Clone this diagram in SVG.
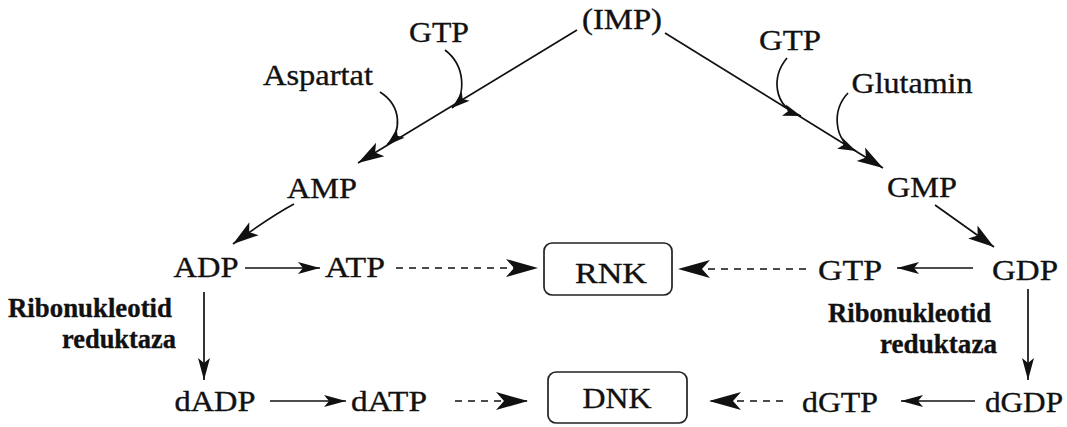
<svg xmlns="http://www.w3.org/2000/svg" width="1067" height="427" viewBox="0 0 1067 427">
<style>
text{font-family:"Liberation Serif","Times New Roman",serif;fill:#111;stroke:#111;stroke-width:0.35}
.t{font-size:30px;text-anchor:middle}
.b{font-size:27px;font-weight:bold;text-anchor:end}
.ln{fill:none;stroke:#111;stroke-width:1.7}
.ds{fill:none;stroke:#111;stroke-width:1.7;stroke-dasharray:7 6}
.box{fill:#fff;stroke:#222;stroke-width:1.7}
</style>
<defs>
<marker id="big" markerWidth="40" markerHeight="24" refX="32" refY="9" orient="auto" markerUnits="userSpaceOnUse" overflow="visible"><path d="M0,0 L32,9 L0,18 L8,9 Z" fill="#111"/></marker>
<marker id="med" markerWidth="34" markerHeight="20" refX="26" refY="8" orient="auto" markerUnits="userSpaceOnUse" overflow="visible"><path d="M0,0 L26,8 L0,16 L6,8 Z" fill="#111"/></marker>
<marker id="sm" markerWidth="28" markerHeight="14" refX="22" refY="6" orient="auto" markerUnits="userSpaceOnUse" overflow="visible"><path d="M0,0 L22,6 L0,12 L5,6 Z" fill="#111"/></marker>
<marker id="cv" markerWidth="24" markerHeight="14" refX="18" refY="6" orient="auto" markerUnits="userSpaceOnUse" overflow="visible"><path d="M0,0 L18,6 L0,12 L4,6 Z" fill="#111"/></marker>
</defs>

<g id="connectors">
<path class="ln" d="M577,30 L358,163" marker-end="url(#med)"/>
<path class="ln" d="M445,50 C466,66 466,96 452,108" marker-end="url(#cv)"/>
<path class="ln" d="M380,92 C402,106 402,132 387,145" marker-end="url(#cv)"/>
<path class="ln" d="M665,33 L883,168" marker-end="url(#med)"/>
<path class="ln" d="M787,58 C772,76 772,106 801,116" marker-end="url(#cv)"/>
<path class="ln" d="M848,93 C832,110 833,140 856,151" marker-end="url(#cv)"/>
<path class="ln" d="M294,204 C275,214 255,228 233,244" marker-end="url(#med)"/>
<path class="ln" d="M935,205 L994,247" marker-end="url(#med)"/>
<path class="ln" d="M245,268 L320,268" marker-end="url(#sm)"/>
<path class="ds" d="M396,268 L538,268" marker-end="url(#big)"/>
<path class="ln" d="M204,292 L204,380" marker-end="url(#sm)"/>
<path class="ln" d="M973,268 L897,268" marker-end="url(#sm)"/>
<path class="ds" d="M806,269 L678,269" marker-end="url(#big)"/>
<path class="ln" d="M1028,289 L1028,380" marker-end="url(#sm)"/>
<path class="ln" d="M270,401 L346,401" marker-end="url(#sm)"/>
<path class="ds" d="M455,401 L528,401" marker-end="url(#big)"/>
<path class="ln" d="M975,401 L901,401" marker-end="url(#sm)"/>
<path class="ds" d="M783,401 L709,401" marker-end="url(#big)"/>
</g>

<g id="IMP"><text class="t" x="622" y="29" textLength="80" lengthAdjust="spacingAndGlyphs">(IMP)</text></g>
<g id="GTP-left"><text class="t" x="439" y="42" textLength="60" lengthAdjust="spacingAndGlyphs">GTP</text></g>
<g id="Aspartat"><text class="t" x="318" y="85" textLength="110" lengthAdjust="spacingAndGlyphs">Aspartat</text></g>
<g id="GTP-right"><text class="t" x="790" y="50" textLength="62" lengthAdjust="spacingAndGlyphs">GTP</text></g>
<g id="Glutamin"><text class="t" x="912" y="93" textLength="121" lengthAdjust="spacingAndGlyphs">Glutamin</text></g>
<g id="AMP"><text class="t" x="322" y="198" textLength="70" lengthAdjust="spacingAndGlyphs">AMP</text></g>
<g id="GMP"><text class="t" x="922" y="197" textLength="70" lengthAdjust="spacingAndGlyphs">GMP</text></g>
<g id="ADP"><text class="t" x="206" y="277" textLength="65" lengthAdjust="spacingAndGlyphs">ADP</text></g>
<g id="ATP"><text class="t" x="355" y="277" textLength="60" lengthAdjust="spacingAndGlyphs">ATP</text></g>
<g id="RNK"><rect class="box" x="544" y="243" width="128" height="52" rx="8"/><text class="t" x="611" y="283" textLength="72" lengthAdjust="spacingAndGlyphs">RNK</text></g>
<g id="GTP-mid"><text class="t" x="850" y="280" textLength="64" lengthAdjust="spacingAndGlyphs">GTP</text></g>
<g id="GDP"><text class="t" x="1025" y="280" textLength="66" lengthAdjust="spacingAndGlyphs">GDP</text></g>
<g id="enzyme-left"><text class="b" x="172" y="317" textLength="164" lengthAdjust="spacingAndGlyphs">Ribonukleotid</text><text class="b" x="176" y="348" textLength="114" lengthAdjust="spacingAndGlyphs">reduktaza</text></g>
<g id="enzyme-right"><text class="b" x="991" y="322" textLength="163" lengthAdjust="spacingAndGlyphs">Ribonukleotid</text><text class="b" x="997" y="353" textLength="117" lengthAdjust="spacingAndGlyphs">reduktaza</text></g>
<g id="dADP"><text class="t" x="215" y="411" textLength="81" lengthAdjust="spacingAndGlyphs">dADP</text></g>
<g id="dATP"><text class="t" x="389" y="411" textLength="76" lengthAdjust="spacingAndGlyphs">dATP</text></g>
<g id="DNK"><rect class="box" x="548" y="372" width="139" height="51" rx="8"/><text class="t" x="617" y="408" textLength="69" lengthAdjust="spacingAndGlyphs">DNK</text></g>
<g id="dGTP"><text class="t" x="840" y="412" textLength="76" lengthAdjust="spacingAndGlyphs">dGTP</text></g>
<g id="dGDP"><text class="t" x="1024" y="412" textLength="78" lengthAdjust="spacingAndGlyphs">dGDP</text></g>
</svg>
